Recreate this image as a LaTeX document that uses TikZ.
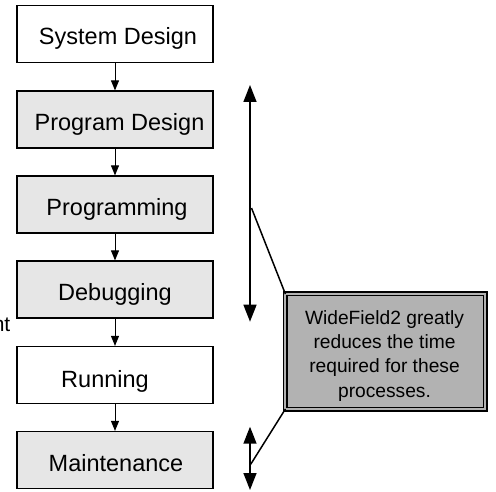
\documentclass[tikz,border=0pt]{standalone}
\usepackage{fontspec}
\setmainfont{Liberation Sans}
\usetikzlibrary{arrows.meta}
\definecolor{boxgray}{HTML}{E6E6E6}
\definecolor{calloutgray}{HTML}{B2B2B2}
\tikzset{
  stage/.style={draw=black, line width=1.2pt, minimum width=196pt, minimum height=57pt,
    inner sep=0pt, font=\fontsize{23.5}{28}\selectfont, text height=27pt, text depth=5pt},
  stagegray/.style={stage, fill=boxgray},
  flow/.style={line width=1pt, -{Triangle[length=10pt,width=8pt]}},
  bracearrow/.style={line width=1.5pt,
    {Triangle[length=17pt,width=13pt]}-{Triangle[length=17pt,width=13pt]}},
  leader/.style={line width=1.5pt},
}
\begin{document}
\begin{tikzpicture}[x=1pt,y=-1pt]
  \useasboundingbox (0,0) rectangle (496,492);

  % process stages
  \node[stage]     (sys)  at (115,34)    {\hspace*{6pt}System Design};
  \node[stagegray] (pd)   at (115,119.5) {\hspace*{9pt}Program Design};
  \node[stagegray] (prog) at (115,204.5) {\hspace*{4pt}Programming};
  \node[stagegray] (dbg)  at (115,289.5) {Debugging};
  \node[stage, text height=29pt] (run) at (115,375) {Running\hspace*{20pt}};
  \node[stagegray] (mnt)  at (115,460)   {\hspace*{2pt}Maintenance};

  \draw[flow] (sys)  -- (pd);
  \draw[flow] (pd)   -- (prog);
  \draw[flow] (prog) -- (dbg);
  \draw[flow] (dbg)  -- (run);
  \draw[flow] (run)  -- (mnt);

  % clipped fragment at the left edge
  \node[anchor=base east, inner sep=0pt, font=\fontsize{21}{25}\selectfont] (frag) at (10.5,331.5) {nt};

  % span arrows
  \coordinate (bt) at (250,85);
  \coordinate (bb) at (250,321.7);
  \draw[bracearrow] (bt) -- (bb);
  \coordinate (st) at (250,426.7);
  \coordinate (sb) at (250,490);
  \draw[bracearrow] (st) -- (sb);

  % callout
  \node[draw=black, double=calloutgray, double distance=2pt, line width=1.5pt,
        fill=calloutgray, minimum width=200pt, minimum height=115pt,
        inner sep=0pt, outer sep=0pt] (note) at (385.4,351.5) {};
  \node[align=center, inner sep=0pt, font=\fontsize{19.2}{24.4}\selectfont] (notetext)
        at (384.5,355.7) {WideField2 greatly\\reduces the time\\required for these\\processes.};

  \coordinate (ta) at (251.5,208);
  \coordinate (tb) at (250.7,464.3);
  \draw[leader] (ta) -- (note.north west);
  \draw[leader] (note.south west) -- (tb);
\end{tikzpicture}
\end{document}
